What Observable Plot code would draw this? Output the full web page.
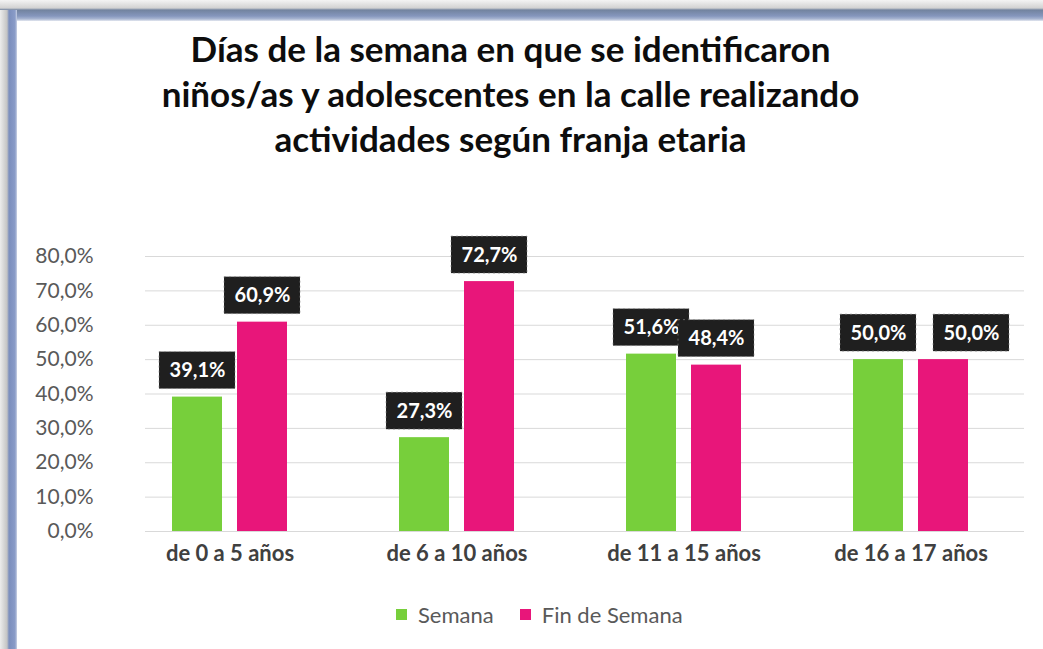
<!DOCTYPE html>
<html>
<head>
<meta charset="utf-8">
<script src="https://cdn.jsdelivr.net/npm/d3@7"></script>
<script src="https://cdn.jsdelivr.net/npm/@observablehq/plot@0.6"></script>
<style>
  html, body { margin: 0; padding: 0; background: #fff; }
  #page { position: relative; width: 1043px; height: 649px; overflow: hidden; background: #fff; }
  #frameTop { position: absolute; left: 0; top: 0; width: 1043px; height: 21px;
    background: linear-gradient(#f4f4f4 0px, #d2d2d2 8px, #72839f 10px, #8596bd 16px, #a9b6d2 19px, #e4e8f0 21px); }
  #frameLeft { position: absolute; left: 0; top: 10px; width: 17px; height: 639px;
    background: linear-gradient(to right, #ececec 0px, #c4c4c4 7px, #7b8ebd 9px, #8a9cc8 15px, #c9d1e4 17px); }
  #title { position: absolute; left: 0; width: 1021px; top: 26px; text-align: center;
    font-family: Lato, sans-serif; font-weight: bold; font-size: 35px; line-height: 45px; color: #0d0d0d; }
  #chart { position: absolute; left: 0; top: 180px; }
  #legend { position: absolute; left: 396px; top: 598px; }
  .lg-swatch { margin-right: 26px !important; }
</style>
</head>
<body>
<div id="page">
  <div id="frameTop"></div>
  <div id="frameLeft"></div>
  <div id="title">Días de la semana en que se identificaron<br>niños/as y adolescentes en la calle realizando<br>actividades según franja etaria</div>
  <div id="chart"></div>
  <div id="legend"></div>
</div>
<script>
const categories = ["de 0 a 5 años", "de 6 a 10 años", "de 11 a 15 años", "de 16 a 17 años"];
const series = ["Semana", "Fin de Semana"];
const semana = [39.1, 27.3, 51.6, 50.0];
const finDeSemana = [60.9, 72.7, 48.4, 50.0];
const yTicks = [0, 10, 20, 30, 40, 50, 60, 70, 80];
const yTickLabels = ["0,0%", "10,0%", "20,0%", "30,0%", "40,0%", "50,0%", "60,0%", "70,0%", "80,0%"];
const colors = ["#77cf3b", "#e8167a"];

const rowsSemana = categories.map((c, i) => ({cat: c, series: series[0], value: semana[i]}));
const rowsFin = categories.map((c, i) => ({cat: c, series: series[1], value: finDeSemana[i]}));
const fmt = v => v.toFixed(1).replace(".", ",") + "%";

// the last "Fin de Semana" label is nudged right in the original to avoid overlap
const nudged = categories[3];
const finPlain = rowsFin.filter(d => d.cat !== nudged);
const finNudged = rowsFin.filter(d => d.cat === nudged);

const boxStyle = {fill: "#1f1f1f", stroke: "#8a8a8a", strokeOpacity: 0.6, strokeWidth: 1, strokeDasharray: "2 3"};
const labelStyle = {fill: "white", fontWeight: "bold", fontSize: 20, fontFamily: "Lato, sans-serif"};

const chart = Plot.plot({
  width: 1043,
  height: 400,
  marginLeft: 145,
  marginRight: 19,
  marginTop: 76,
  marginBottom: 49,
  style: {fontFamily: "Lato, sans-serif", background: "transparent", overflow: "visible"},
  x: {domain: categories, paddingInner: 0.4934, paddingOuter: 0.1816, align: 0.327, label: null},
  y: {domain: [0, 80], label: null},
  color: {domain: series, range: colors},
  marks: [
    Plot.ruleY(yTicks, {stroke: "#d9d9d9", strokeWidth: 1}),
    Plot.axisY({ticks: yTicks, tickFormat: d => yTickLabels[yTicks.indexOf(d)], tickSize: 0, tickPadding: 52,
      fontSize: 21, fill: "#595959", label: null}),
    Plot.axisX({tickSize: 0, tickPadding: 14, fontSize: 22, fontWeight: "bold", fill: "#404040", label: null}),
    Plot.barY(rowsSemana, {x: "cat", y: "value", fill: "series", insetRight: 65}),
    Plot.barY(rowsFin, {x: "cat", y: "value", fill: "series", insetLeft: 65}),
    Plot.barY(rowsSemana, {x: "cat", y1: "value", y2: "value", ...boxStyle,
      insetLeft: -13, insetRight: 52, insetTop: -45, insetBottom: 8}),
    Plot.text(rowsSemana, {x: "cat", y: "value", text: d => fmt(d.value), dx: -32.5, dy: -26.5, ...labelStyle}),
    Plot.barY(finPlain, {x: "cat", y1: "value", y2: "value", ...boxStyle,
      insetLeft: 52, insetRight: -13, insetTop: -45, insetBottom: 8}),
    Plot.text(finPlain, {x: "cat", y: "value", text: d => fmt(d.value), dx: 32.5, dy: -26.5, ...labelStyle}),
    Plot.barY(finNudged, {x: "cat", y1: "value", y2: "value", ...boxStyle,
      insetLeft: 80, insetRight: -41, insetTop: -45, insetBottom: 8}),
    Plot.text(finNudged, {x: "cat", y: "value", text: d => fmt(d.value), dx: 60.5, dy: -26.5, ...labelStyle})
  ]
});
document.getElementById("chart").appendChild(chart);

const legend = Plot.legend({
  color: {type: "ordinal", domain: series, range: colors},
  swatchSize: 11,
  className: "lg",
  style: {fontFamily: "Lato, sans-serif", fontSize: "22px", color: "#595959", background: "transparent"}
});
document.getElementById("legend").appendChild(legend);
</script>
</body>
</html>
